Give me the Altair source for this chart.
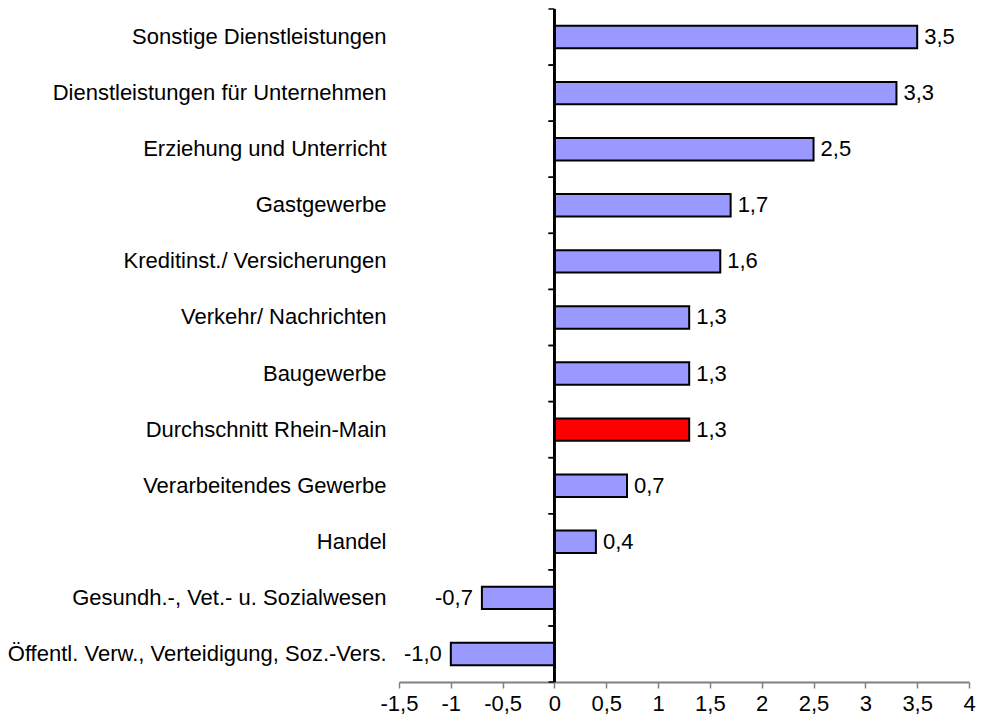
import altair as alt
import pandas as pd

categories = [
    "Sonstige Dienstleistungen",
    "Dienstleistungen für Unternehmen",
    "Erziehung und Unterricht",
    "Gastgewerbe",
    "Kreditinst./ Versicherungen",
    "Verkehr/ Nachrichten",
    "Baugewerbe",
    "Durchschnitt Rhein-Main",
    "Verarbeitendes Gewerbe",
    "Handel",
    "Gesundh.-, Vet.- u. Sozialwesen",
    "Öffentl. Verw., Verteidigung, Soz.-Vers.",
]
values = [3.5, 3.3, 2.5, 1.7, 1.6, 1.3, 1.3, 1.3, 0.7, 0.4, -0.7, -1.0]
highlight = "Durchschnitt Rhein-Main"
x_ticks = [-1.5, -1, -0.5, 0, 0.5, 1, 1.5, 2, 2.5, 3, 3.5, 4]

df = pd.DataFrame({"cat": categories, "val": values})
df["label"] = [f"{v:.1f}".replace(".", ",") for v in values]
df["kind"] = ["avg" if c == highlight else "sector" for c in categories]

FONT = "Liberation Sans"
FS = 22
W, H = 570, 673

yscale = alt.Scale(paddingInner=0, paddingOuter=0)
yenc = alt.Y(
    "cat:N", sort=categories, scale=yscale,
    axis=alt.Axis(title=None, domain=False, ticks=False, labelPadding=13,
                  labelFontSize=FS, labelFont=FONT, labelColor="black",
                  labelLimit=600),
)
xenc = alt.X(
    "val:Q",
    scale=alt.Scale(domain=[-1.5, 4], nice=False, zero=False),
    axis=alt.Axis(title=None, values=x_ticks, grid=False, domainColor="#808080",
                  domainWidth=2, tickColor="#808080", tickWidth=1.5, tickSize=6,
                  labelFontSize=FS, labelFont=FONT, labelColor="black",
                  labelPadding=5, labelFlush=False, labelOverlap=False,
                  format=".1~f",
                  labelExpr="replace(replace(datum.label, '.', ','), '\u2212', '-')"),
)

bars = alt.Chart(df).mark_bar(height={"band": 0.4}, stroke="black", strokeWidth=2).encode(
    y=yenc, x=xenc, x2=alt.datum(0),
    color=alt.Color("kind:N", scale=alt.Scale(domain=["sector", "avg"], range=["#9999FF", "#FF0000"]), legend=None),
)

zero = alt.Chart(df).mark_rule(color="black", strokeWidth=1.5).encode(x=alt.datum(0))

ticks0 = alt.Chart(df).mark_rule(color="black", strokeWidth=1.5, x2Offset=-6).encode(
    y=alt.Y("cat:N", sort=categories, bandPosition=0), x=alt.datum(0), x2=alt.datum(0))
ticks1 = alt.Chart(df).mark_rule(color="black", strokeWidth=1.5, x2Offset=-6).encode(
    y=alt.Y("cat:N", sort=categories, bandPosition=1), x=alt.datum(0), x2=alt.datum(0))

tpos = alt.Chart(df).transform_filter("datum.val >= 0").mark_text(
    align="left", baseline="middle", dx=7, fontSize=FS, font=FONT, color="black"
).encode(y=alt.Y("cat:N", sort=categories), x="val:Q", text="label:N")
tneg = alt.Chart(df).transform_filter("datum.val < 0").mark_text(
    align="right", baseline="middle", dx=-9, fontSize=FS, font=FONT, color="black"
).encode(y=alt.Y("cat:N", sort=categories), x="val:Q", text="label:N")

chart = alt.layer(bars, zero, ticks0, ticks1, tpos, tneg).properties(
    width=W, height=H,
    padding={"left": 391, "top": 1, "right": 7, "bottom": 33},
    autosize=alt.AutoSizeParams(type="none"),
).configure_view(stroke=None)

chart.save("out.html", embed_options={"renderer": "svg", "actions": False})
